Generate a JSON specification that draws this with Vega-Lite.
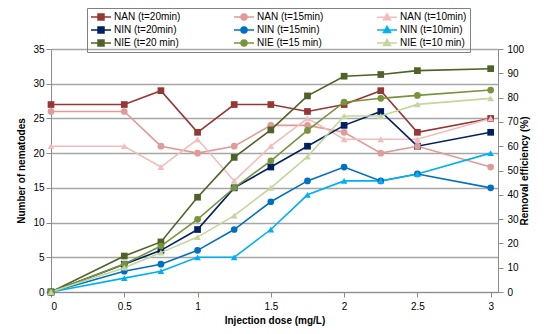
{
  "$schema": "https://vega.github.io/schema/vega-lite/v6.json",
  "width": 447,
  "height": 243,
  "autosize": "none",
  "padding": {"left": 51, "top": 49, "right": 52, "bottom": 42},
  "background": "white",
  "config": {
    "font": "Liberation Sans",
    "view": {"stroke": null},
    "axis": {
      "labelFontSize": 10,
      "labelColor": "#000000",
      "titleFontSize": 10,
      "titleFontWeight": "bold",
      "titleColor": "#000000",
      "domainColor": "#8c8c8c",
      "tickColor": "#8c8c8c",
      "tickSize": 5,
      "gridColor": "#a6a6a6",
      "gridWidth": 1.5
    },
    "legend": {"labelFontSize": 10, "labelColor": "#000000"}
  },
  "datasets": {
    "d": [
      {"s": "NAN (t=20min)", "a": "L", "t": 20, "x": 0, "v": 27},
      {"s": "NAN (t=20min)", "a": "L", "t": 20, "x": 0.5, "v": 27},
      {"s": "NAN (t=20min)", "a": "L", "t": 20, "x": 0.75, "v": 29},
      {"s": "NAN (t=20min)", "a": "L", "t": 20, "x": 1, "v": 23},
      {"s": "NAN (t=20min)", "a": "L", "t": 20, "x": 1.25, "v": 27},
      {"s": "NAN (t=20min)", "a": "L", "t": 20, "x": 1.5, "v": 27},
      {"s": "NAN (t=20min)", "a": "L", "t": 20, "x": 1.75, "v": 26},
      {"s": "NAN (t=20min)", "a": "L", "t": 20, "x": 2, "v": 27},
      {"s": "NAN (t=20min)", "a": "L", "t": 20, "x": 2.25, "v": 29},
      {"s": "NAN (t=20min)", "a": "L", "t": 20, "x": 2.5, "v": 23},
      {"s": "NAN (t=20min)", "a": "L", "t": 20, "x": 3, "v": 25},
      {"s": "NAN (t=15min)", "a": "L", "t": 15, "x": 0, "v": 26},
      {"s": "NAN (t=15min)", "a": "L", "t": 15, "x": 0.5, "v": 26},
      {"s": "NAN (t=15min)", "a": "L", "t": 15, "x": 0.75, "v": 21},
      {"s": "NAN (t=15min)", "a": "L", "t": 15, "x": 1, "v": 20},
      {"s": "NAN (t=15min)", "a": "L", "t": 15, "x": 1.25, "v": 21},
      {"s": "NAN (t=15min)", "a": "L", "t": 15, "x": 1.5, "v": 24},
      {"s": "NAN (t=15min)", "a": "L", "t": 15, "x": 1.75, "v": 24},
      {"s": "NAN (t=15min)", "a": "L", "t": 15, "x": 2, "v": 23},
      {"s": "NAN (t=15min)", "a": "L", "t": 15, "x": 2.25, "v": 20},
      {"s": "NAN (t=15min)", "a": "L", "t": 15, "x": 2.5, "v": 21},
      {"s": "NAN (t=15min)", "a": "L", "t": 15, "x": 3, "v": 18},
      {"s": "NAN (t=10min)", "a": "L", "t": 10, "x": 0, "v": 21},
      {"s": "NAN (t=10min)", "a": "L", "t": 10, "x": 0.5, "v": 21},
      {"s": "NAN (t=10min)", "a": "L", "t": 10, "x": 0.75, "v": 18},
      {"s": "NAN (t=10min)", "a": "L", "t": 10, "x": 1, "v": 22},
      {"s": "NAN (t=10min)", "a": "L", "t": 10, "x": 1.25, "v": 16},
      {"s": "NAN (t=10min)", "a": "L", "t": 10, "x": 1.5, "v": 21},
      {"s": "NAN (t=10min)", "a": "L", "t": 10, "x": 1.75, "v": 25},
      {"s": "NAN (t=10min)", "a": "L", "t": 10, "x": 2, "v": 22},
      {"s": "NAN (t=10min)", "a": "L", "t": 10, "x": 2.25, "v": 22},
      {"s": "NAN (t=10min)", "a": "L", "t": 10, "x": 2.5, "v": 22},
      {"s": "NAN (t=10min)", "a": "L", "t": 10, "x": 3, "v": 25},
      {"s": "NIN (t=20min)", "a": "L", "t": 20, "x": 0, "v": 0},
      {"s": "NIN (t=20min)", "a": "L", "t": 20, "x": 0.5, "v": 4},
      {"s": "NIN (t=20min)", "a": "L", "t": 20, "x": 0.75, "v": 6},
      {"s": "NIN (t=20min)", "a": "L", "t": 20, "x": 1, "v": 9},
      {"s": "NIN (t=20min)", "a": "L", "t": 20, "x": 1.25, "v": 15},
      {"s": "NIN (t=20min)", "a": "L", "t": 20, "x": 1.5, "v": 18},
      {"s": "NIN (t=20min)", "a": "L", "t": 20, "x": 1.75, "v": 21},
      {"s": "NIN (t=20min)", "a": "L", "t": 20, "x": 2, "v": 24},
      {"s": "NIN (t=20min)", "a": "L", "t": 20, "x": 2.25, "v": 26},
      {"s": "NIN (t=20min)", "a": "L", "t": 20, "x": 2.5, "v": 21},
      {"s": "NIN (t=20min)", "a": "L", "t": 20, "x": 3, "v": 23},
      {"s": "NIN (t=15min)", "a": "L", "t": 15, "x": 0, "v": 0},
      {"s": "NIN (t=15min)", "a": "L", "t": 15, "x": 0.5, "v": 3},
      {"s": "NIN (t=15min)", "a": "L", "t": 15, "x": 0.75, "v": 4},
      {"s": "NIN (t=15min)", "a": "L", "t": 15, "x": 1, "v": 6},
      {"s": "NIN (t=15min)", "a": "L", "t": 15, "x": 1.25, "v": 9},
      {"s": "NIN (t=15min)", "a": "L", "t": 15, "x": 1.5, "v": 13},
      {"s": "NIN (t=15min)", "a": "L", "t": 15, "x": 1.75, "v": 16},
      {"s": "NIN (t=15min)", "a": "L", "t": 15, "x": 2, "v": 18},
      {"s": "NIN (t=15min)", "a": "L", "t": 15, "x": 2.25, "v": 16},
      {"s": "NIN (t=15min)", "a": "L", "t": 15, "x": 2.5, "v": 17},
      {"s": "NIN (t=15min)", "a": "L", "t": 15, "x": 3, "v": 15},
      {"s": "NIN (t=10min)", "a": "L", "t": 10, "x": 0, "v": 0},
      {"s": "NIN (t=10min)", "a": "L", "t": 10, "x": 0.5, "v": 2},
      {"s": "NIN (t=10min)", "a": "L", "t": 10, "x": 0.75, "v": 3},
      {"s": "NIN (t=10min)", "a": "L", "t": 10, "x": 1, "v": 5},
      {"s": "NIN (t=10min)", "a": "L", "t": 10, "x": 1.25, "v": 5},
      {"s": "NIN (t=10min)", "a": "L", "t": 10, "x": 1.5, "v": 9},
      {"s": "NIN (t=10min)", "a": "L", "t": 10, "x": 1.75, "v": 14},
      {"s": "NIN (t=10min)", "a": "L", "t": 10, "x": 2, "v": 16},
      {"s": "NIN (t=10min)", "a": "L", "t": 10, "x": 2.25, "v": 16},
      {"s": "NIN (t=10min)", "a": "L", "t": 10, "x": 2.5, "v": 17},
      {"s": "NIN (t=10min)", "a": "L", "t": 10, "x": 3, "v": 20},
      {"s": "NIE (t=20 min)", "a": "R", "t": 20, "x": 0, "v": 0},
      {"s": "NIE (t=20 min)", "a": "R", "t": 20, "x": 0.5, "v": 14.8},
      {"s": "NIE (t=20 min)", "a": "R", "t": 20, "x": 0.75, "v": 20.6},
      {"s": "NIE (t=20 min)", "a": "R", "t": 20, "x": 1, "v": 39},
      {"s": "NIE (t=20 min)", "a": "R", "t": 20, "x": 1.25, "v": 55.4},
      {"s": "NIE (t=20 min)", "a": "R", "t": 20, "x": 1.5, "v": 66.7},
      {"s": "NIE (t=20 min)", "a": "R", "t": 20, "x": 1.75, "v": 80.7},
      {"s": "NIE (t=20 min)", "a": "R", "t": 20, "x": 2, "v": 88.8},
      {"s": "NIE (t=20 min)", "a": "R", "t": 20, "x": 2.25, "v": 89.5},
      {"s": "NIE (t=20 min)", "a": "R", "t": 20, "x": 2.5, "v": 91.1},
      {"s": "NIE (t=20 min)", "a": "R", "t": 20, "x": 3, "v": 91.9},
      {"s": "NIE (t=15 min)", "a": "R", "t": 15, "x": 0, "v": 0},
      {"s": "NIE (t=15 min)", "a": "R", "t": 15, "x": 0.5, "v": 11.5},
      {"s": "NIE (t=15 min)", "a": "R", "t": 15, "x": 0.75, "v": 18.9},
      {"s": "NIE (t=15 min)", "a": "R", "t": 15, "x": 1, "v": 29.9},
      {"s": "NIE (t=15 min)", "a": "R", "t": 15, "x": 1.25, "v": 42.9},
      {"s": "NIE (t=15 min)", "a": "R", "t": 15, "x": 1.5, "v": 54},
      {"s": "NIE (t=15 min)", "a": "R", "t": 15, "x": 1.75, "v": 66.5},
      {"s": "NIE (t=15 min)", "a": "R", "t": 15, "x": 2, "v": 78.1},
      {"s": "NIE (t=15 min)", "a": "R", "t": 15, "x": 2.25, "v": 79.7},
      {"s": "NIE (t=15 min)", "a": "R", "t": 15, "x": 2.5, "v": 80.9},
      {"s": "NIE (t=15 min)", "a": "R", "t": 15, "x": 3, "v": 83.1},
      {"s": "NIE (t=10 min)", "a": "R", "t": 10, "x": 0, "v": 0},
      {"s": "NIE (t=10 min)", "a": "R", "t": 10, "x": 0.5, "v": 10},
      {"s": "NIE (t=10 min)", "a": "R", "t": 10, "x": 0.75, "v": 16.2},
      {"s": "NIE (t=10 min)", "a": "R", "t": 10, "x": 1, "v": 22.6},
      {"s": "NIE (t=10 min)", "a": "R", "t": 10, "x": 1.25, "v": 31.4},
      {"s": "NIE (t=10 min)", "a": "R", "t": 10, "x": 1.5, "v": 42.9},
      {"s": "NIE (t=10 min)", "a": "R", "t": 10, "x": 1.75, "v": 55.7},
      {"s": "NIE (t=10 min)", "a": "R", "t": 10, "x": 2, "v": 72.4},
      {"s": "NIE (t=10 min)", "a": "R", "t": 10, "x": 2.25, "v": 72.4},
      {"s": "NIE (t=10 min)", "a": "R", "t": 10, "x": 2.5, "v": 77.2},
      {"s": "NIE (t=10 min)", "a": "R", "t": 10, "x": 3, "v": 79.7}
    ]
  },
  "data": {"name": "d"},
  "encoding": {
    "x": {
      "field": "x",
      "type": "quantitative",
      "scale": {"domain": [0, 3.05], "nice": false, "zero": false},
      "axis": {"title": "Injection dose (mg/L)", "values": [0, 0.5, 1, 1.5, 2, 2.5, 3], "format": "~g", "grid": false, "labelPadding": 4, "titlePadding": 4}
    },
    "color": {
      "field": "s",
      "type": "nominal",
      "sort": null,
      "scale": {
        "domain": ["NAN (t=20min)", "NAN (t=15min)", "NAN (t=10min)", "NIN (t=20min)", "NIN (t=15min)", "NIN (t=10min)", "NIE (t=20 min)", "NIE (t=15 min)", "NIE (t=10 min)"],
        "range": ["#953735", "#E09A98", "#F2BCBB", "#002060", "#0070C0", "#00B0F0", "#4F6228", "#77933C", "#C3D69B"]
      },
      "legend": {
        "title": null,
        "orient": "none",
        "direction": "horizontal",
        "legendX": 36,
        "legendY": -41,
        "columns": 3,
        "columnPadding": 50,
        "rowPadding": 0,
        "padding": 3,
        "strokeColor": "#808080",
        "symbolSize": 100,
        "symbolOffset": 5,
        "labelOffset": 7,
        "encode": {
          "symbols": {
            "update": {
              "shape": {"signal": "indexof(datum.value,'20')>=0 ? 'M-2,0H2M-0.6,-0.6H0.6V0.6H-0.6Z' : indexof(datum.value,'15')>=0 ? 'M-2,0H2M-0.6,0A0.6,0.6 0 1,0 0.6,0A0.6,0.6 0 1,0 -0.6,0Z' : 'M-2,0H2M0,-0.7L0.7,0.5L-0.7,0.5Z'"},
              "fill": {"scale": "color", "field": "value"},
              "stroke": {"scale": "color", "field": "value"},
              "strokeWidth": {"value": 1.5},
              "size": {"value": 100},
              "opacity": {"value": 1}
            }
          }
        }
      }
    }
  },
  "layer": [
    {
      "transform": [{"filter": "datum.a == 'L'"}],
      "encoding": {
        "y": {
          "field": "v",
          "type": "quantitative",
          "scale": {"domain": [0, 35], "nice": false},
          "axis": {"title": "Number of nematodes", "values": [0, 5, 10, 15, 20, 25, 30, 35], "grid": true, "titlePadding": 6, "labelPadding": 2}
        }
      },
      "layer": [
        {"mark": {"type": "line", "strokeWidth": 1.6}},
        {"transform": [{"filter": "datum.t == 20"}], "mark": {"type": "point", "shape": "square", "filled": true, "opacity": 1, "size": 45}},
        {"transform": [{"filter": "datum.t == 15"}], "mark": {"type": "point", "shape": "circle", "filled": true, "opacity": 1, "size": 45}},
        {"transform": [{"filter": "datum.t == 10"}], "mark": {"type": "point", "shape": "triangle-up", "filled": true, "opacity": 1, "size": 45}}
      ]
    },
    {
      "transform": [{"filter": "datum.a == 'R'"}],
      "encoding": {
        "y": {
          "field": "v",
          "type": "quantitative",
          "scale": {"domain": [0, 100], "nice": false},
          "axis": {"title": "Removal efficiency (%)", "orient": "right", "values": [0, 10, 20, 30, 40, 50, 60, 70, 80, 90, 100], "grid": false, "titleAngle": -90, "titlePadding": 6, "labelPadding": 4}
        }
      },
      "layer": [
        {"mark": {"type": "line", "strokeWidth": 1.6}},
        {"transform": [{"filter": "datum.t == 20"}], "mark": {"type": "point", "shape": "square", "filled": true, "opacity": 1, "size": 45}},
        {"transform": [{"filter": "datum.t == 15"}], "mark": {"type": "point", "shape": "circle", "filled": true, "opacity": 1, "size": 45}},
        {"transform": [{"filter": "datum.t == 10"}], "mark": {"type": "point", "shape": "triangle-up", "filled": true, "opacity": 1, "size": 45}}
      ]
    }
  ],
  "resolve": {"scale": {"y": "independent"}}
}
